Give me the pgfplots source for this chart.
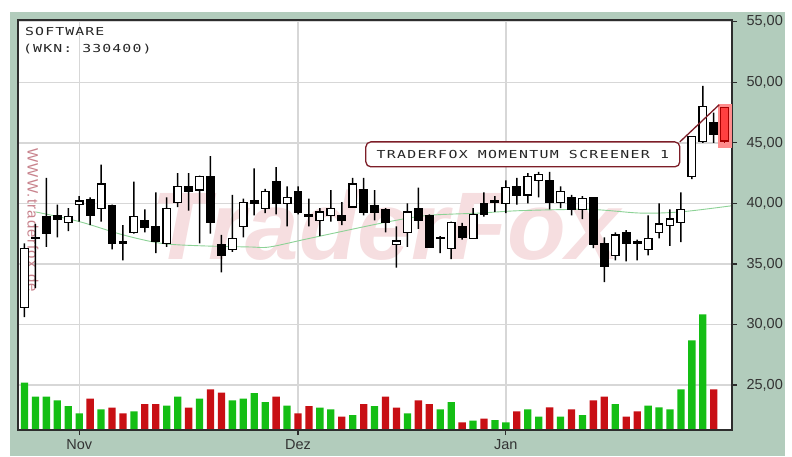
\documentclass[border=0pt]{standalone}
\usepackage{fontspec}
\setmainfont{Liberation Sans}
\newfontfamily\pixfont[FakeStretch=1.35,LetterSpace=10]{DejaVu Sans Mono}
\newfontfamily\annofont[FakeStretch=1.35,LetterSpace=12]{DejaVu Sans Mono}
\usepackage{pgfplots}
\usepackage{pgfplotstable}
\pgfplotsset{compat=1.18}
\definecolor{bgsage}{RGB}{178,204,188}
\definecolor{volgreen}{RGB}{20,190,20}
\definecolor{volred}{RGB}{200,15,20}
\definecolor{framedark}{RGB}{45,45,45}
\definecolor{gridgray}{RGB}{215,215,215}
\definecolor{magreen}{RGB}{140,210,150}
\definecolor{wmpink}{RGB}{246,222,224}
\definecolor{wmtext}{RGB}{200,130,140}
\definecolor{annored}{RGB}{125,30,40}

\pgfplotstableread{
i o h l c
0 31.4 36.7 30.6 36.3
1 37.2 38.3 33.0 37.1
2 38.9 42.1 36.4 37.5
3 39.0 39.9 37.2 38.7
4 38.4 39.6 37.7 38.9
5 39.9 40.6 38.5 40.2
6 40.3 40.5 38.2 39.0
7 39.6 43.2 38.5 41.6
8 39.8 39.9 36.2 36.7
9 36.8 38.2 35.3 36.7
10 37.6 41.8 37.5 38.9
11 38.6 39.5 37.6 38.0
12 38.1 40.9 35.9 36.9
13 36.7 40.5 36.4 39.6
14 40.1 42.5 39.7 41.4
15 41.4 42.5 39.4 41.0
16 41.1 42.3 36.7 42.2
17 42.2 43.9 37.5 38.4
18 36.6 37.4 34.3 35.7
19 36.2 40.7 36.0 37.1
20 38.1 40.4 37.2 40.1
21 40.2 42.9 39.0 40.0
22 39.6 41.2 39.2 41.0
23 41.8 43.0 39.1 40.0
24 40.0 41.4 38.1 40.5
25 41.0 41.4 39.1 39.3
26 39.1 40.4 38.1 38.9
27 38.6 39.6 37.3 39.3
28 39.0 41.1 38.5 39.6
29 39.0 40.1 38.2 38.6
30 39.7 42.1 39.7 41.6
31 41.1 42.1 39.0 39.3
32 39.8 41.1 38.6 39.3
33 39.5 39.6 37.6 38.4
34 36.6 38.1 34.7 36.9
35 37.6 40.0 36.4 39.3
36 39.6 41.3 37.9 38.6
37 39.0 39.1 36.4 36.4
38 37.2 37.3 35.9 37.1
39 36.3 38.5 35.4 38.4
40 38.1 38.4 37.0 37.2
41 37.1 39.6 37.1 39.1
42 40.0 40.9 38.9 39.1
43 40.2 40.6 39.3 40.1
44 40.0 41.9 39.2 41.3
45 41.4 42.1 39.9 40.7
46 40.7 42.5 40.0 42.2
47 41.9 42.6 40.5 42.4
48 41.9 42.6 39.5 40.1
49 40.1 41.4 39.6 41.0
50 40.5 40.7 39.0 39.5
51 39.5 40.6 38.7 40.4
52 40.5 40.5 36.3 36.6
53 36.7 37.2 33.5 34.8
54 35.7 37.6 35.3 37.4
55 37.6 37.8 35.2 36.7
56 36.8 37.0 35.3 36.7
57 36.2 39.0 35.7 37.1
58 37.6 40.0 37.1 38.3
59 38.2 39.5 36.5 38.7
60 38.4 40.9 36.8 39.5
61 42.2 45.5 42.0 45.5
62 45.1 49.7 45.0 48.0
63 46.7 47.5 45.0 45.7
}\candles

\pgfplotstableread{
i g r
0 47.3 0
1 33.3 0
2 33.3 0
3 29.7 0
4 24.0 0
5 16.7 0
6 0 31.3
7 20.7 0
8 0 22.3
9 0 16.7
10 18.7 0
11 0 26.0
12 0 26.0
13 24.3 0
14 33.3 0
15 0 22.3
16 31.3 0
17 0 40.7
18 0 37.3
19 29.7 0
20 31.3 0
21 37.0 0
22 28.0 0
23 0 33.3
24 24.3 0
25 0 16.7
26 0 24.0
27 22.3 0
28 20.7 0
29 0 13.3
30 15.0 0
31 0 26.0
32 24.0 0
33 0 33.3
34 0 22.3
35 16.7 0
36 0 29.7
37 0 26.0
38 20.7 0
39 28.0 0
40 0 7.7
41 9.3 0
42 0 11.3
43 10.0 0
44 7.7 0
45 0 18.7
46 20.7 0
47 13.3 0
48 0 22.7
49 13.3 0
50 0 20.7
51 15.0 0
52 0 29.7
53 0 33.3
54 26.0 0
55 0 13.3
56 0 18.7
57 24.3 0
58 22.7 0
59 20.7 0
60 40.7 0
61 89.7 0
62 115.7 0
63 0 40.7
}\volume

\pgfplotsset{
  base/.style={scale only axis, width=714pt, height=410pt, at={(18pt,26pt)},
    anchor=south west, xmin=-0.594, xmax=64.67},
  price/.style={base, ymin=21.28, ymax=55.15},
}

\begin{document}
\begin{tikzpicture}
\useasboundingbox (0,0) rectangle (792pt,456pt);
\fill[white] (0,0) rectangle (792pt,456pt);
\fill[bgsage] (10pt,0) rectangle (785pt,444pt);
\fill[white] (18pt,26pt) rectangle (732pt,436pt);

% main axis: grid, ticks, watermark, moving average
\begin{axis}[price,
  axis line style={framedark, line width=1.6pt},
  xtick={5,25,44}, xticklabels={Nov,Dez,Jan},
  ytick={25,30,35,40,45,50,55},
  yticklabels={{25,00},{30,00},{35,00},{40,00},{45,00},{50,00},{55,00}},
  ytick pos=right, yticklabel pos=right, xtick pos=left,
  tick align=outside, major tick length=5pt,
  tick style={framedark, line width=1.2pt},
  grid=major, grid style={gridgray, line width=1.3pt},
  ticklabel style={font=\fontsize{14.5}{14.5}\selectfont, text=black!80},
  yticklabel style={xshift=6pt},
  xticklabel style={yshift=-1pt},
]
\node[text=wmpink, font=\fontsize{96}{96}\selectfont\bfseries\itshape]
  at (axis cs:33,38.2) {TraderFox};
\node[text=wmtext, rotate=-90, font=\addfontfeature{LetterSpace=8}\fontsize{15}{15}\selectfont]
  at (axis cs:0.78,38.6) {WWW.traderfox.de};
\addplot[magreen, line width=0.9pt, smooth] coordinates {
  (1,39.3) (5,38.5) (9,37.4) (12.5,36.7) (16,36.5) (20.6,36.4) (22.4,36.4)
  (26,37.1) (32.8,38.4) (36.8,39.0) (41.6,39.2) (45.3,39.4) (51.7,39.5)
  (56.3,39.2) (60,39.3) (64.6,39.8)};
\end{axis}

% volume
\begin{axis}[base, ymin=0, ymax=410, hide axis, ybar, bar width=7.3pt]
\addplot[fill=volgreen, draw=none, bar shift=0pt] table[x=i, y=g]{\volume};
\addplot[fill=volred, draw=none, bar shift=0pt] table[x=i, y=r]{\volume};
\end{axis}

% wicks
\begin{axis}[price, hide axis, ybar stacked, bar width=1.5pt]
\addplot[draw=none, fill=none] table[x=i, y=l]{\candles};
\addplot[draw=none, fill=black] table[x=i, y expr={\thisrow{h}-\thisrow{l}}]{\candles};
\end{axis}

% bodies
\begin{axis}[price, hide axis, ybar stacked, bar width=7.6pt]
\addplot[draw=none, fill=none] table[x=i, y expr={min(\thisrow{o},\thisrow{c})}]{\candles};
\addplot[fill=white, draw=black, line width=1.3pt] table[x=i, y expr={max(\thisrow{c}-\thisrow{o},0)}]{\candles};
\addplot[fill=black, draw=black, line width=1.3pt] table[x=i, y expr={max(\thisrow{o}-\thisrow{c},0)}]{\candles};
\end{axis}

% highlighted last candle, annotation, frame
\begin{axis}[price,
  axis line style={framedark, line width=1.6pt},
  xtick=\empty, ytick=\empty]
\addplot[draw=none, mark=none, error bars/.cd, y dir=both, y explicit, error mark=none,
  error bar style={draw=red!45, line width=14pt}] coordinates {(64,46.4) +- (0,1.8)};
\addplot[draw=none, mark=none, error bars/.cd, y dir=both, y explicit, error mark=none,
  error bar style={draw=red!70!black, line width=1.5pt}] coordinates {(64,46.0) +- (0,1.0)};
\addplot[draw=none, mark=none, error bars/.cd, y dir=both, y explicit, error mark=none,
  error bar style={draw=red!65!black, line width=9pt}] coordinates {(64,46.55) +- (0,1.45)};
\addplot[draw=none, mark=none, error bars/.cd, y dir=both, y explicit, error mark=none,
  error bar style={draw=red!75, line width=6.4pt}] coordinates {(64,46.55) +- (0,1.3)};
\draw[annored, line width=1.3pt] (axis cs:59.9,45.08) -- (axis cs:63.5,48.15);
\draw[annored, line width=1.3pt, fill=white, rounded corners=5pt]
  (axis cs:31.2,45.08) rectangle (axis cs:59.9,43.02);
\node[font=\annofont\fontsize{11}{11}\selectfont, text=black!85]
  at (axis cs:45.55,44.05) {TRADERFOX MOMENTUM SCREENER 1};
\end{axis}

\node[anchor=base west, inner sep=0pt, font=\pixfont\fontsize{11}{11}\selectfont, text=black!85]
  at (25pt,420pt) {SOFTWARE};
\node[anchor=base west, inner sep=0pt, font=\pixfont\fontsize{11}{11}\selectfont, text=black!85]
  at (23pt,403pt) {(WKN: 330400)};
\end{tikzpicture}
\end{document}
